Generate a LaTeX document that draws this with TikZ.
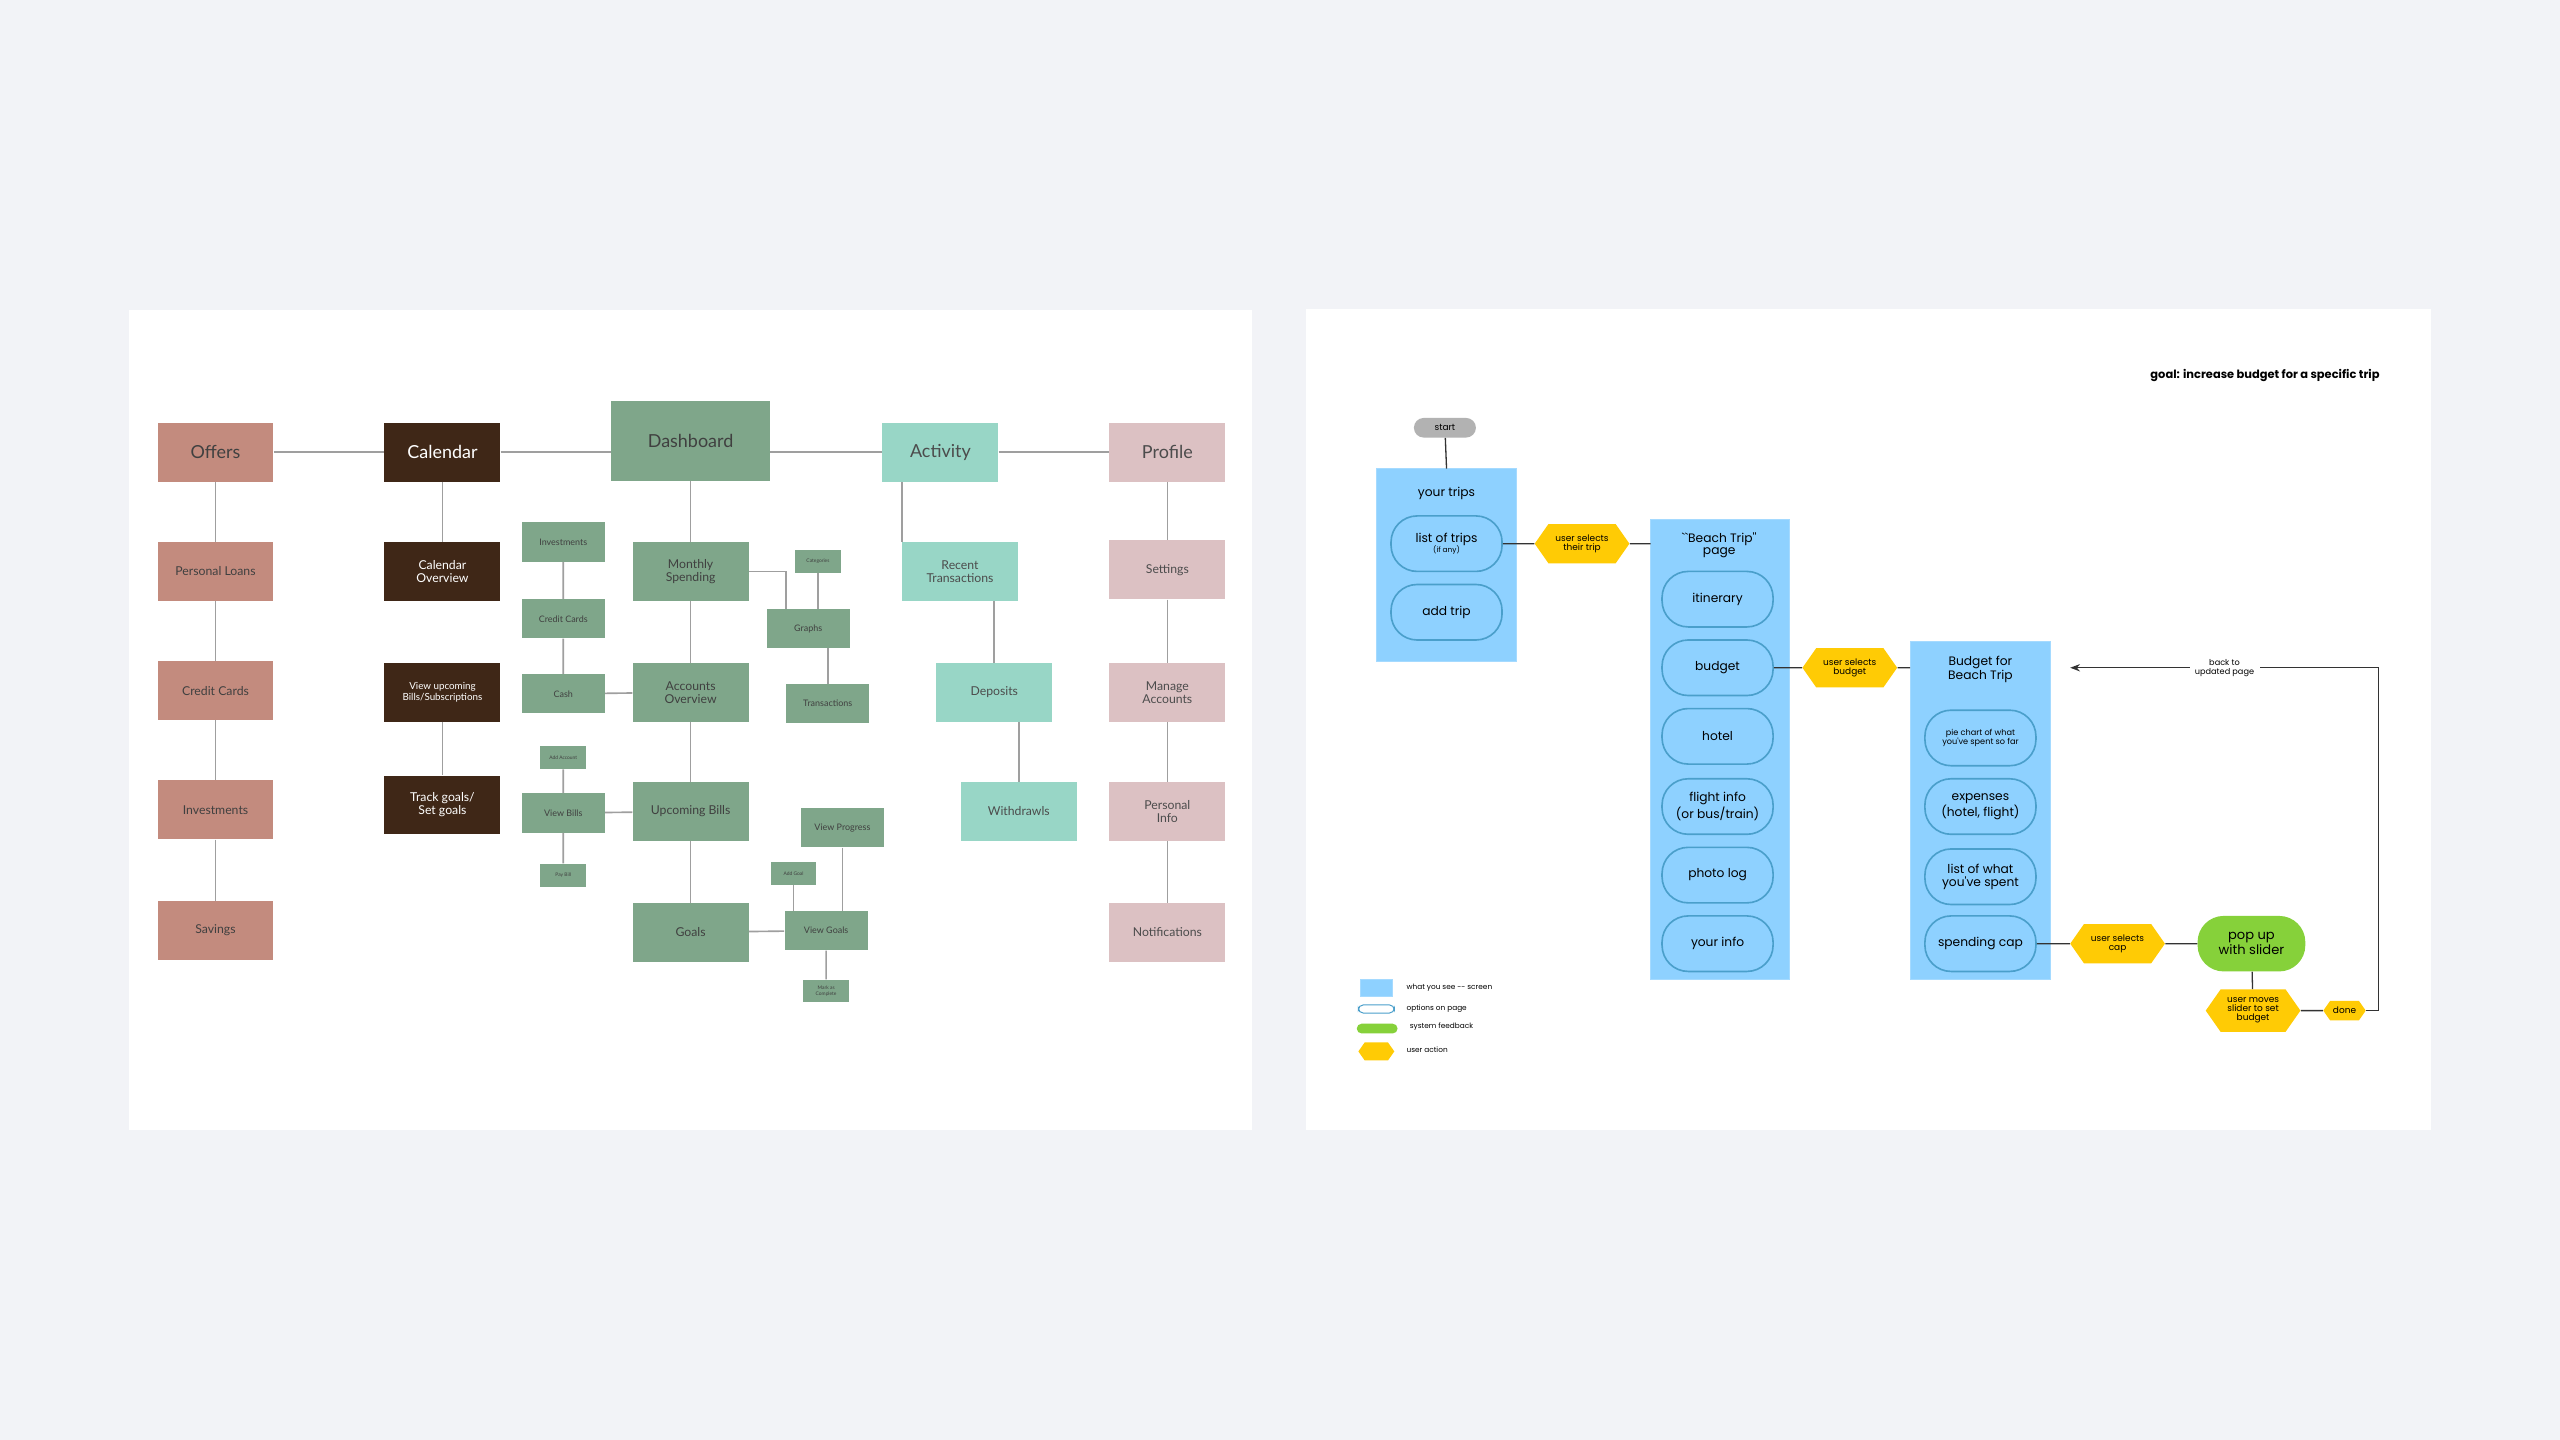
\documentclass[tikz,border=0pt]{standalone}
\usepackage{fontspec}
\setmainfont{Lato}
\newfontfamily\flowfont{Poppins}
\usetikzlibrary{shapes.symbols, arrows.meta, positioning}

\definecolor{pagebg}{HTML}{F2F3F7}
\definecolor{offerc}{HTML}{C38B7E}
\definecolor{calc}{HTML}{3F2717}
\definecolor{dashc}{HTML}{7FA68A}
\definecolor{actc}{HTML}{98D6C6}
\definecolor{profc}{HTML}{DCC1C3}
\definecolor{screenc}{HTML}{8ED1FF}
\definecolor{optline}{HTML}{4A9FCB}
\definecolor{userc}{HTML}{FFCB05}
\definecolor{feedc}{HTML}{86D13A}

\begin{document}
\begin{tikzpicture}[
			x=1pt, y=-1pt,
			tree/.style={draw=gray!75, line width=1pt},
			box/.style={minimum width=71pt, minimum height=36pt, align=center, inner sep=1pt, font=\fontsize{7.5}{8}\selectfont},
			offer/.style={box, fill=offerc, text=black!75},
			calendar/.style={box, fill=calc, text=white},
			dashbox/.style={box, fill=dashc, text=black!75},
			activity/.style={box, fill=actc, text=black!70},
			profile/.style={box, fill=profc, text=black!70},
			head/.style={font=\fontsize{11}{12}\selectfont},
			sub/.style={dashbox, minimum width=51pt, minimum height=24pt, font=\fontsize{5.5}{6}\selectfont},
			tiny/.style={dashbox, minimum width=28pt, minimum height=14pt, font=\fontsize{3}{3.5}\selectfont},
			flow/.style={draw=black!80, line width=0.8pt},
			screen/.style={fill=screenc, draw=screenc!80!white},
			option/.style={draw=optline, line width=1pt, fill=screenc, rounded corners=16pt, minimum width=68pt, minimum height=34pt, align=center, font=\flowfont\fontsize{7.5}{8}\selectfont},
			action/.style={signal, signal to=east and west, signal pointer angle=110, fill=userc, minimum width=58pt, minimum height=24pt, inner sep=0pt, align=center, font=\flowfont\fontsize{5.5}{5.5}\selectfont},
			feedback/.style={fill=feedc, rounded corners=16pt, minimum width=66pt, minimum height=34pt, align=center, font=\flowfont\fontsize{8}{8}\selectfont},
			legtext/.style={anchor=west, font=\flowfont\fontsize{4.5}{5}\selectfont}
			]
	\fill[pagebg] (0,0) rectangle (1568,882);
	\useasboundingbox (0,0) rectangle (1568,882);
	\fill[white] (79,190) rectangle (767,692);
	\fill[white] (800,189) rectangle (1489,692);

	% site map
	\node[offer, head] (offers) at (132,277) {Offers};
	\node[calendar, head] (calendar) at (271,277) {Calendar};
	\node[dashbox, head, minimum width=97pt, minimum height=49pt] (dashboard) at (423,270) {Dashboard};
	\node[activity, head] (activity) at (576,277) {Activity};
	\node[profile, head] (profile) at (715,277) {Profile};

	\node[offer] (loans) at (132,350) {Personal Loans};
	\node[offer] (ocards) at (132,423) {Credit Cards};
	\node[offer] (oinvest) at (132,496) {Investments};
	\node[offer] (savings) at (132,570) {Savings};

	\node[calendar] (calover) at (271,350) {Calendar\\Overview};
	\node[calendar, font=\fontsize{6}{6.5}\selectfont] (upcoming) at (271,424) {View upcoming\\Bills/Subscriptions};
	\node[calendar] (track) at (271,493) {Track goals/\\Set goals};

	\node[dashbox] (monthly) at (423,350) {Monthly\\Spending};
	\node[dashbox] (accounts) at (423,424) {Accounts\\Overview};
	\node[dashbox] (bills) at (423,497) {Upcoming Bills};
	\node[dashbox] (goals) at (423,571) {Goals};

	\node[sub] (dinvest) at (345,332) {Investments};
	\node[sub] (dcards) at (345,379) {Credit Cards};
	\node[sub] (cash) at (345,425) {Cash};
	\node[tiny] (addacc) at (345,464) {Add Account};
	\node[sub] (viewbills) at (345,498) {View Bills};
	\node[tiny] (paybill) at (345,536) {Pay Bill};

	\node[tiny] (categories) at (501,344) {Categories};
	\node[sub] (graphs) at (495,385) {Graphs};
	\node[sub] (transactions) at (507,431) {Transactions};
	\node[sub] (progress) at (516,507) {View Progress};
	\node[tiny] (addgoal) at (486,535) {Add Goal};
	\node[sub] (viewgoals) at (506,570) {View Goals};
	\node[tiny, align=center] (complete) at (506,607) {Mark as\\Complete};

	\node[activity] (recent) at (588,350) {Recent\\Transactions};
	\node[activity] (deposits) at (609,424) {Deposits};
	\node[activity] (withdraw) at (624,497) {Withdrawls};

	\node[profile] (settings) at (715,349) {Settings};
	\node[profile] (manage) at (715,424) {Manage\\Accounts};
	\node[profile] (personal) at (715,497) {Personal\\Info};
	\node[profile] (notes) at (715,571) {Notifications};

	\draw[tree] (offers.east) -- (calendar.west);
	\draw[tree] (calendar.east) -- (dashboard.west |- calendar.east);
	\draw[tree] (dashboard.east |- activity.west) -- (activity.west);
	\draw[tree] (activity.east) -- (profile.west);
	\draw[tree] (offers) -- (loans) -- (ocards) -- (oinvest) -- (savings);
	\draw[tree] (calendar) -- (calover) (upcoming) -- (track);
	\draw[tree] (dashboard) -- (monthly) -- (accounts) -- (bills) -- (goals);
	\draw[tree] (dinvest) -- (dcards) -- (cash) -- (accounts);
	\draw[tree] (addacc) -- (viewbills) -- (paybill) (viewbills) -- (bills);
	\draw[tree] (monthly.east) -| ([xshift=12pt]graphs.north west);
	\draw[tree] (categories) -- (categories |- graphs.north);
	\draw[tree] (transactions.north) -- (transactions |- graphs.south);
	\draw[tree] (goals) -- (viewgoals) -- (complete);
	\draw[tree] (progress.south) -- (progress |- viewgoals.north);
	\draw[tree] (addgoal) -- (addgoal |- viewgoals.north);
	\draw[tree] ([xshift=12pt]activity.south west) -- ([xshift=12pt]activity.south west |- recent.north);
	\draw[tree] (deposits.north) -- (deposits |- recent.south);
	\draw[tree] (withdraw.north) -- (withdraw |- deposits.south);
	\draw[tree] (profile) -- (settings) -- (manage) -- (personal) -- (notes);

	% user flow
	\node[anchor=east, font=\flowfont\bfseries\fontsize{7}{8}\selectfont] (goal) at (1461,230) {goal: increase budget for a specific trip};
	\node[fill=black!30, rounded corners=6pt, minimum width=38pt, minimum height=12pt, inner sep=0pt, font=\flowfont\fontsize{5.5}{6}\selectfont] (start) at (885,262) {start};

	\fill[screen] (843,287) rectangle (929,405);
	\coordinate (tripstop) at (886,287);
	\node[font=\flowfont\fontsize{7.5}{8}\selectfont] (tripstitle) at (886,302) {your trips};
	\node[option] (list) at (886,333) {list of trips\\[-2pt]{\fontsize{4.5}{5}\selectfont(if any)}};
	\node[option] (addtrip) at (886,375) {add trip};

	\fill[screen] (1011,318) rectangle (1096,600);
	\coordinate (beachleft) at (1011,333);
	\node[align=center, font=\flowfont\fontsize{7.5}{7.5}\selectfont] (beachtitle) at (1053,334) {``Beach Trip''\\page};
	\node[option] (itinerary) at (1052,367) {itinerary};
	\node[option] (budget) at (1052,409) {budget};
	\node[option] (hotel) at (1052,451) {hotel};
	\node[option] (flight) at (1052,494) {flight info\\(or bus/train)};
	\node[option] (photo) at (1052,536) {photo log};
	\node[option] (info) at (1052,578) {your info};

	\fill[screen] (1170,393) rectangle (1256,600);
	\coordinate (budgetleft) at (1170,409);
	\node[align=center, font=\flowfont\fontsize{7.5}{7.5}\selectfont] (budgettitle) at (1213,410) {Budget for\\Beach Trip};
	\node[option, font=\flowfont\fontsize{5}{5.5}\selectfont] (pie) at (1213,452) {pie chart of what\\you've spent so far};
	\node[option] (expenses) at (1213,494) {expenses\\(hotel, flight)};
	\node[option] (spentlist) at (1213,537) {list of what\\you've spent};
	\node[option] (cap) at (1213,578) {spending cap};

	\node[action] (selecttrip) at (969,333) {user selects\\their trip};
	\node[action] (selectbudget) at (1133,409) {user selects\\budget};
	\node[action] (selectcap) at (1297,578) {user selects\\cap};
	\node[feedback] (popup) at (1379,578) {pop up\\with slider};
	\node[action, minimum height=26pt] (slider) at (1380,619) {user moves\\slider to set\\budget};
	\node[action, minimum width=26pt, minimum height=12pt] (done) at (1436,619) {done};
	\coordinate (backturn) at (1457,409);
	\coordinate (backend) at (1268,409);

	\draw[flow] (start) -- (tripstop);
	\draw[flow] (list) -- (selecttrip) -- (beachleft);
	\draw[flow] (budget) -- (selectbudget) -- (budgetleft);
	\draw[flow] (cap) -- (selectcap) -- (popup) -- (slider) -- (done);
	\draw[flow, -{Stealth[length=6pt]}] (done.east) -| (backturn) -- (backend)
		node[midway, fill=white, align=center, font=\flowfont\fontsize{5}{5.5}\selectfont] {back to\\updated page};

	% legend
	\fill[screen] (833,600) rectangle (853,610);
	\node[legtext] (legscreen) at (858,605) {what you see -- screen};
	\draw[optline, line width=0.6pt, rounded corners=3pt] (832,615.5) rectangle (854,620.5);
	\node[legtext] (legoption) at (858,618) {options on page};
	\fill[feedc, rounded corners=3pt] (831,627) rectangle (856,633);
	\node[legtext] (legfeed) at (860,629) {system feedback};
	\node[action, minimum width=22pt, minimum height=11pt] (leghex) at (843,644) {};
	\node[legtext] (legaction) at (858,643) {user action};
\end{tikzpicture}
\end{document}
